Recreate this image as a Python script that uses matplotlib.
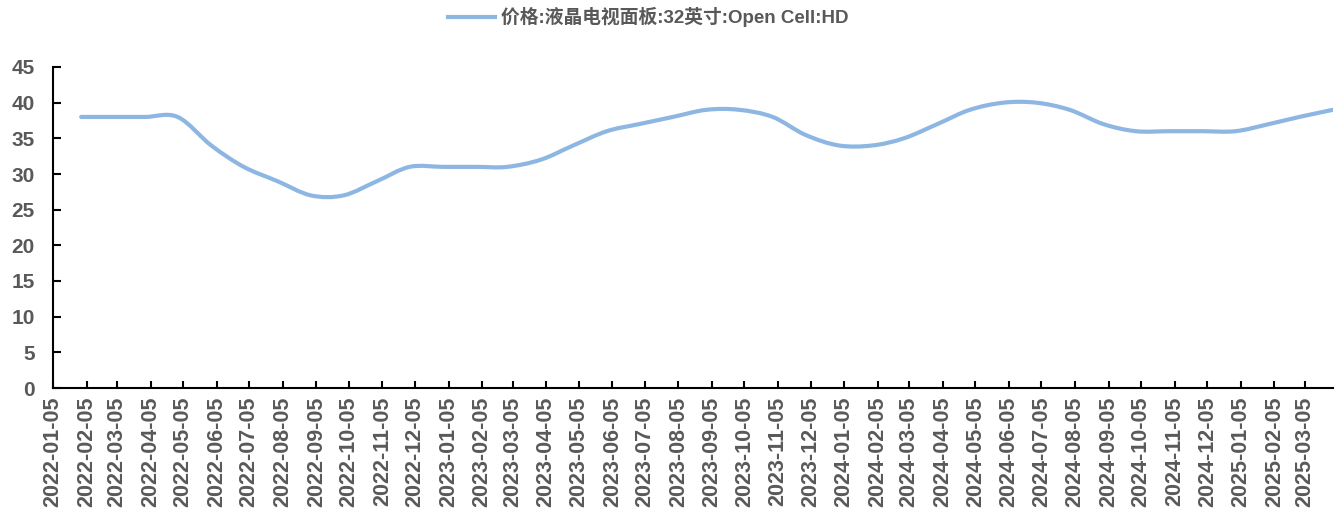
import matplotlib
matplotlib.use('Agg')
import matplotlib.pyplot as plt
import matplotlib.dates as mdates
from matplotlib.path import Path
from matplotlib.patches import PathPatch
from matplotlib.lines import Line2D
import pandas as pd

dates = ['2022-01-31', '2022-02-28', '2022-03-31', '2022-04-30', '2022-05-31',
         '2022-06-30', '2022-07-31', '2022-08-31', '2022-09-30', '2022-10-31',
         '2022-11-30', '2022-12-31', '2023-01-31', '2023-02-28', '2023-03-31',
         '2023-04-30', '2023-05-31', '2023-06-30', '2023-07-31', '2023-08-31',
         '2023-09-30', '2023-10-31', '2023-11-30', '2023-12-31', '2024-01-31',
         '2024-02-29', '2024-03-31', '2024-04-30', '2024-05-31', '2024-06-30',
         '2024-07-31', '2024-08-31', '2024-09-30', '2024-10-31', '2024-11-30',
         '2024-12-31', '2025-01-31', '2025-02-28', '2025-03-31']
prices = [38, 38, 38, 38, 34,
          31, 29, 27, 27, 29,
          31, 31, 31, 31, 32,
          34, 36, 37, 38, 39,
          39, 38, 35.5, 34, 34,
          35, 37, 39, 40, 40,
          39, 37, 36, 36, 36,
          36, 37, 38, 39]

series_name = '价格:液晶电视面板:32英寸:Open Cell:HD'
# axis ticks fall on the 5th of each month
tick_dates = pd.date_range('2022-01-01', '2025-03-01', freq='MS') + pd.Timedelta(days=4)

line_color = '#8DB7E2'
text_color = '#595959'


def smooth_path(x, y, t=1 / 6):
    """Excel-style smoothed line as a bezier path through the points."""
    n = len(x)
    verts = [(x[0], y[0])]
    codes = [Path.MOVETO]
    for i in range(n - 1):
        x0, y0 = (x[i - 1], y[i - 1]) if i > 0 else (x[i], y[i])
        x3, y3 = (x[i + 2], y[i + 2]) if i + 2 < n else (x[i + 1], y[i + 1])
        c1 = (x[i] + (x[i + 1] - x0) * t, y[i] + (y[i + 1] - y0) * t)
        c2 = (x[i + 1] - (x3 - x[i]) * t, y[i + 1] - (y3 - y[i]) * t)
        verts += [c1, c2, (x[i + 1], y[i + 1])]
        codes += [Path.CURVE4] * 3
    return Path(verts, codes)


plt.rcParams['font.family'] = ['Liberation Sans', 'Noto Sans CJK SC', 'DejaVu Sans']
plt.rcParams['font.weight'] = 'bold'

fig = plt.figure(figsize=(13.37, 5.14), dpi=100)
ax = fig.add_axes([53 / 1337, 126 / 514, 1280 / 1337, 321 / 514])

xnum = list(mdates.date2num(pd.to_datetime(dates)))
patch = PathPatch(smooth_path(xnum, prices), facecolor='none',
                  edgecolor=line_color, lw=3, capstyle='round',
                  joinstyle='round')
ax.add_patch(patch)

ax.set_xlim(mdates.date2num(pd.Timestamp('2022-01-05')), xnum[-1])
ax.set_ylim(0, 45)
ax.set_yticks(range(0, 46, 5))
ax.set_xticks(mdates.date2num(tick_dates))
ax.set_xticklabels([d.strftime('%Y-%m-%d') for d in tick_dates], rotation=90)

for side in ['top', 'right']:
    ax.spines[side].set_visible(False)
for side in ['left', 'bottom']:
    ax.spines[side].set_linewidth(1.5)
    ax.spines[side].set_color('black')

ax.tick_params(axis='y', direction='in', length=6, width=1.5, pad=13,
               labelsize=15, labelcolor=text_color)
ax.tick_params(axis='x', direction='in', length=5, width=1.5, pad=6,
               labelsize=15.5, labelcolor=text_color)

handle = Line2D([], [], color=line_color, lw=3)
leg = fig.legend([handle], [series_name], loc='center left',
                 bbox_to_anchor=(448 / 1337, 1 - 17 / 514), frameon=False,
                 borderpad=0, borderaxespad=0, handlelength=2.5,
                 handletextpad=0.35,
                 prop={'family': ['Liberation Sans', 'Noto Sans CJK SC'],
                       'weight': 'bold', 'size': 13.5})
for txt in leg.get_texts():
    txt.set_color(text_color)

fig.savefig('out.png', dpi=100)
